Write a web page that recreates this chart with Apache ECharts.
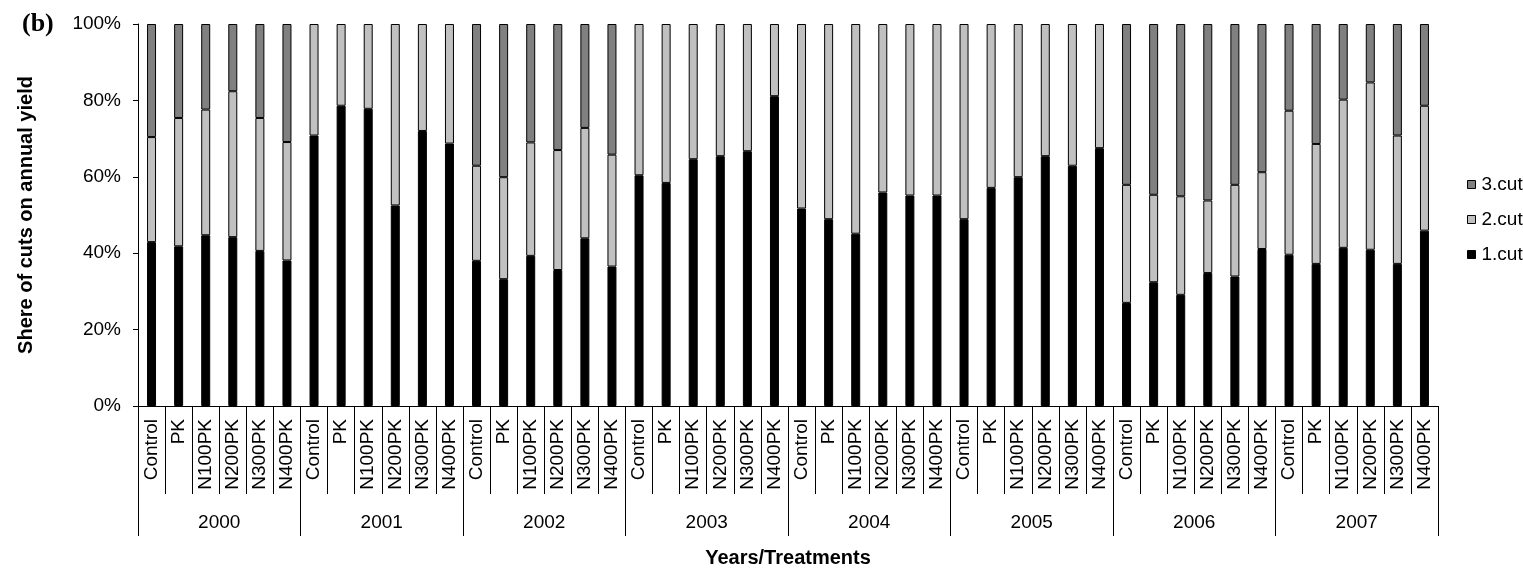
<!DOCTYPE html>
<html>
<head>
<meta charset="utf-8">
<script src="https://cdn.jsdelivr.net/npm/echarts@6/dist/echarts.min.js"></script>
<style>
  html, body { margin: 0; padding: 0; background: #fff; }
  #chart { width: 1523px; height: 569px; }
</style>
</head>
<body>
<div id="chart"></div>
<script>
// Years and fertiliser treatments (one bar per treatment per year)
const years = ['2000', '2001', '2002', '2003', '2004', '2005', '2006', '2007'];
const treatments = ['Control', 'PK', 'N100PK', 'N200PK', 'N300PK', 'N400PK'];

// Share (%) of each cut in the annual yield, in year/treatment order
const cut1 = [
  42.9, 41.8, 44.7, 44.2, 40.6, 38.1,
  70.8, 78.6, 77.8, 52.5, 72.0, 68.7,
  38.0, 33.2, 39.3, 35.6, 43.9, 36.5,
  60.4, 58.4, 64.6, 65.4, 66.7, 81.1,
  51.7, 48.9, 45.1, 55.9, 55.1, 55.1,
  48.9, 57.1, 59.9, 65.4, 62.9, 67.5,
  27.0, 32.4, 29.1, 34.8, 33.9, 41.1,
  39.6, 37.2, 41.4, 40.9, 37.2, 45.9
];
const cut2 = [
  27.5, 33.6, 32.9, 38.2, 34.8, 31.0,
  29.2, 21.4, 22.2, 47.5, 28.0, 31.3,
  24.9, 26.7, 29.7, 31.4, 28.9, 29.3,
  39.6, 41.6, 35.4, 34.6, 33.3, 18.9,
  48.3, 51.1, 54.9, 44.1, 44.9, 44.9,
  51.1, 42.9, 40.1, 34.6, 37.1, 32.5,
  30.9, 22.9, 25.8, 19.0, 24.0, 20.1,
  37.7, 31.4, 38.8, 43.8, 33.6, 32.7
];
const cut3 = [
  29.6, 24.6, 22.4, 17.6, 24.6, 30.9,
  0, 0, 0, 0, 0, 0,
  37.1, 40.1, 31.0, 33.0, 27.2, 34.2,
  0, 0, 0, 0, 0, 0,
  0, 0, 0, 0, 0, 0,
  0, 0, 0, 0, 0, 0,
  42.1, 44.7, 45.1, 46.2, 42.1, 38.8,
  22.7, 31.4, 19.8, 15.3, 29.2, 21.4
];
const yTicks = [0, 20, 40, 60, 80, 100];

const categories = [];
years.forEach(() => treatments.forEach(t => categories.push(t)));

const FONT = 'Liberation Sans, Arial, sans-serif';
const chart = echarts.init(document.getElementById('chart'), null, { renderer: 'canvas' });

// A year without a third cut gets no segment at all (no outline drawn on top)
function barSeries(name, data, color) {
  return {
    name: name,
    type: 'bar',
    stack: 'share',
    data: data.map(v => (v === 0 ? '-' : v)),
    barWidth: 9,
    xAxisIndex: 0,
    yAxisIndex: 0,
    itemStyle: { color: color, borderColor: '#000', borderWidth: 1 },
    emphasis: { disabled: true }
  };
}

chart.setOption({
  animation: false,
  backgroundColor: '#fff',
  textStyle: { fontFamily: FONT },
  graphic: [{
    type: 'text',
    left: 22,
    top: 11,
    style: {
      text: '(b)',
      font: 'bold 26px "Liberation Serif", "Times New Roman", serif',
      fill: '#000'
    }
  }],
  legend: {
    orient: 'vertical',
    left: 1462,
    top: 170,
    itemWidth: 8,
    itemHeight: 8,
    itemGap: 16,
    icon: 'rect',
    data: ['3.cut', '2.cut', '1.cut'],
    itemStyle: { borderColor: '#000', borderWidth: 1 },
    textStyle: { fontFamily: FONT, fontSize: 19, color: '#000', padding: [0, 0, 0, 1] }
  },
  grid: {
    left: 138, right: 85, top: 24, bottom: 163,
    containLabel: false,
    outerBoundsMode: 'none'
  },
  xAxis: [
    {
      type: 'category',
      position: 'bottom',
      data: categories,
      boundaryGap: true,
      axisLine: { show: true, lineStyle: { color: '#000', width: 1 } },
      axisTick: { show: true, interval: 0, length: 88, lineStyle: { color: '#000', width: 1 } },
      axisLabel: {
        interval: 0,
        rotate: 90,
        margin: 13,
        fontFamily: FONT,
        fontSize: 19,
        color: '#000'
      },
      splitLine: { show: false }
    },
    {
      type: 'category',
      position: 'bottom',
      offset: 0,
      data: years,
      boundaryGap: true,
      axisLine: { show: false },
      axisTick: { show: true, interval: 0, length: 130, lineStyle: { color: '#000', width: 1 } },
      axisLabel: {
        interval: 0,
        margin: 107,
        fontFamily: FONT,
        fontSize: 19,
        color: '#000'
      },
      name: 'Years/Treatments',
      nameLocation: 'middle',
      nameGap: 142,
      nameMoveOverlap: false,
      nameTextStyle: { fontFamily: FONT, fontSize: 20, fontWeight: 'bold', color: '#000' },
      splitLine: { show: false }
    }
  ],
  yAxis: {
    type: 'value',
    min: yTicks[0],
    max: yTicks[yTicks.length - 1],
    interval: yTicks[1] - yTicks[0],
    axisLine: { show: true, lineStyle: { color: '#000', width: 1 } },
    axisTick: { show: true, length: 5, lineStyle: { color: '#000', width: 1 } },
    axisLabel: {
      margin: 17,
      fontFamily: FONT,
      fontSize: 19,
      color: '#000',
      formatter: '{value}%'
    },
    splitLine: { show: false },
    name: 'Shere of cuts on annual yield',
    nameLocation: 'middle',
    nameRotate: 90,
    nameGap: 102,
    nameMoveOverlap: false,
    nameTextStyle: { fontFamily: FONT, fontSize: 20, fontWeight: 'bold', color: '#000' }
  },
  series: [
    barSeries('1.cut', cut1, '#000000'),
    barSeries('2.cut', cut2, '#c0c0c0'),
    barSeries('3.cut', cut3, '#808080')
  ]
});
</script>
</body>
</html>
